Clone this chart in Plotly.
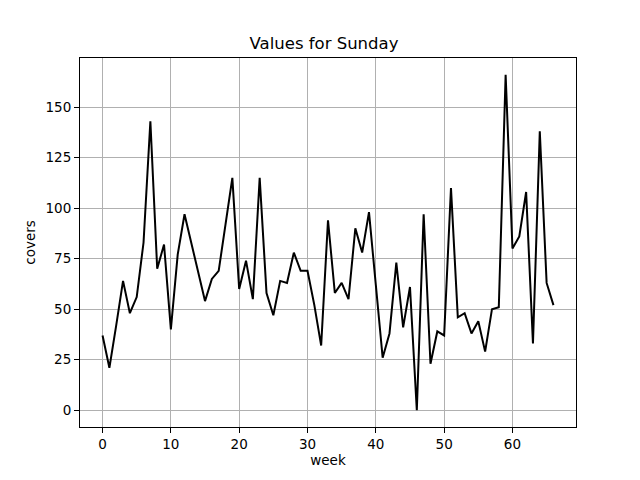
import plotly.graph_objects as go

# weekly covers
weeks = list(range(67))
covers = [37, 21, 42, 64, 48, 56, 83, 143, 70, 82,
          40, 77, 97, 83, 69, 54, 65, 69, 92, 115,
          60, 74, 55, 115, 58, 47, 64, 63, 78, 69,
          69, 52, 32, 94, 58, 63, 55, 90, 78, 98,
          62, 26, 38, 73, 41, 61, 0, 97, 23, 39,
          37, 110, 46, 48, 38, 44, 29, 50, 51, 166,
          80, 86, 108, 33, 138, 63, 52]

x_ticks = [0, 10, 20, 30, 40, 50, 60]
y_ticks = [0, 25, 50, 75, 100, 125, 150]

fig = go.Figure(go.Scatter(x=weeks, y=covers, mode="lines",
                           line=dict(color="black", width=2)))

axis_style = dict(
    showline=True, mirror=True, linecolor="black", linewidth=1,
    ticks="outside", ticklen=5, tickwidth=1, tickcolor="black",
    showgrid=True, gridcolor="#b0b0b0", gridwidth=1,
    zeroline=False, tickfont=dict(size=13.5, color="black"),
)

# page puts the plot 8px in from the top-left corner, so size is trimmed by that
fig.update_layout(
    width=632, height=472,
    margin=dict(l=72, r=64, t=50, b=53),
    paper_bgcolor="white", plot_bgcolor="white",
    font=dict(family="DejaVu Sans", color="black"),
    showlegend=False,
    title=dict(text="Values for Sunday", x=0.5, xanchor="center",
               y=1 - 35 / 472, yanchor="middle", yref="container",
               font=dict(size=16.5, color="black")),
    xaxis=dict(axis_style, range=[-3.3, 69.3], tickmode="array", tickvals=x_ticks,
               title=dict(text="week", font=dict(size=13.5), standoff=2)),
    yaxis=dict(axis_style, range=[-8.3, 174.3], tickmode="array", tickvals=y_ticks,
               title=dict(text="covers", font=dict(size=13.5), standoff=6)),
)

fig.write_html("out.html")
